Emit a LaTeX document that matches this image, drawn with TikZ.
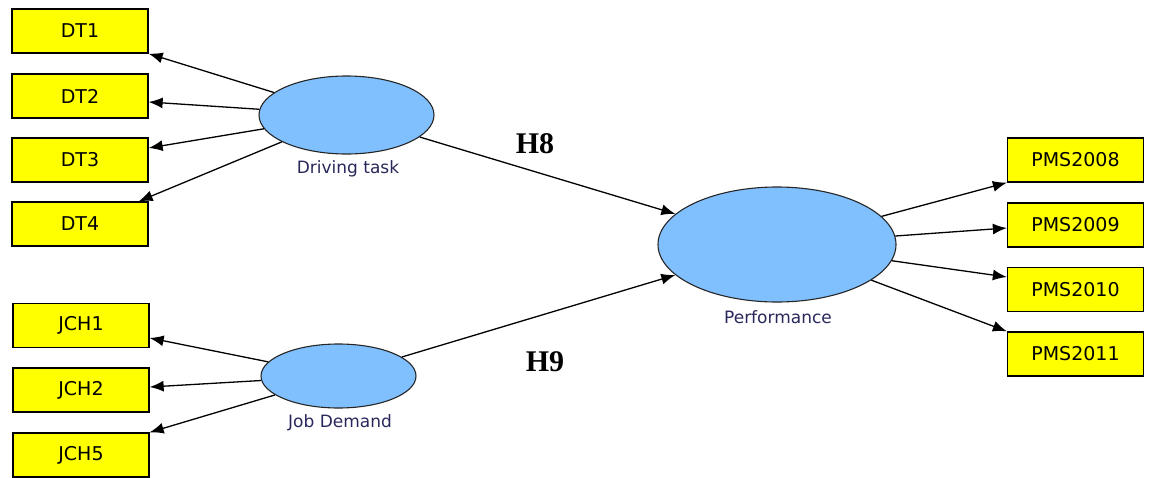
\documentclass[tikz,border=0pt]{standalone}
\usepackage{fontspec}
\setmainfont{DejaVu Sans}
\newfontfamily\hfont{Liberation Serif}
\usetikzlibrary{shapes.geometric,arrows.meta}
\definecolor{boxyellow}{RGB}{255,255,0}
\definecolor{latentblue}{RGB}{128,192,255}
\definecolor{labelnavy}{RGB}{40,40,90}
\begin{document}
\begin{tikzpicture}[x=1pt,y=-1pt,
  indicator/.style={draw=black,fill=boxyellow,line width=1.3pt,minimum width=136pt,
    minimum height=44pt,inner sep=0pt,font=\fontsize{19}{19}\selectfont},
  latent/.style={ellipse,draw=black!85,fill=latentblue,line width=1.1pt,inner sep=0pt},
  caption/.style={text=labelnavy,font=\fontsize{17}{17}\selectfont,inner sep=0pt},
  hyp/.style={font=\hfont\bfseries\fontsize{30}{30}\selectfont,inner sep=0pt},
  link/.style={line width=1.3pt,-{Latex[length=14pt,width=11pt]}}]
\useasboundingbox (0,0) rectangle (1151,477);

% latent constructs
\node[latent,minimum width=175pt,minimum height=78pt] (dt) at (346.5,115) {};
\node[latent,minimum width=155pt,minimum height=64pt] (jd) at (338.5,376) {};
\node[latent,minimum width=238pt,minimum height=115pt] (perf) at (777,244.5) {};

\node[caption] (dtlabel) at (348,169) {Driving task};
\node[caption] (jdlabel) at (340,423) {Job Demand};
\node[caption] (perflabel) at (778,317) {Performance};

% indicators
\node[indicator] (DT1) at (80,31) {DT1};
\node[indicator] (DT2) at (80,96) {DT2};
\node[indicator] (DT3) at (80,160) {DT3};
\node[indicator] (DT4) at (80,224) {DT4};

\node[indicator] (JCH1) at (81,325.5) {JCH1};
\node[indicator] (JCH2) at (81,390) {JCH2};
\node[indicator] (JCH5) at (81,455) {JCH5};

\node[indicator] (P08) at (1075.5,160) {PMS2008};
\node[indicator] (P09) at (1075.5,225) {PMS2009};
\node[indicator] (P10) at (1075.5,289.5) {PMS2010};
\node[indicator] (P11) at (1075.5,354) {PMS2011};

% loadings
\draw[link] (dt) -- (DT1.south east);
\draw[link] (dt) -- ([yshift=-6pt]DT2.east);
\draw[link] (dt) -- ([yshift=12pt]DT3.east);
\draw[link] (dt) -- ([xshift=-10pt]DT4.north east);

\draw[link] (jd) -- ([yshift=-12.5pt]JCH1.east);
\draw[link] (jd) -- ([yshift=3pt]JCH2.east);
\draw[link] (jd) -- (JCH5.north east);

\draw[link] (perf) -- (P08.south west);
\draw[link] (perf) -- ([yshift=-3pt]P09.west);
\draw[link] (perf) -- ([yshift=12.5pt]P10.west);
\draw[link] (perf) -- (P11.north west);

% structural paths
\draw[link] (dt) -- (perf);
\draw[link] (jd) -- (perf);
\node[hyp] (h8) at (535,144) {H8};
\node[hyp] (h9) at (545,362) {H9};
\end{tikzpicture}
\end{document}
